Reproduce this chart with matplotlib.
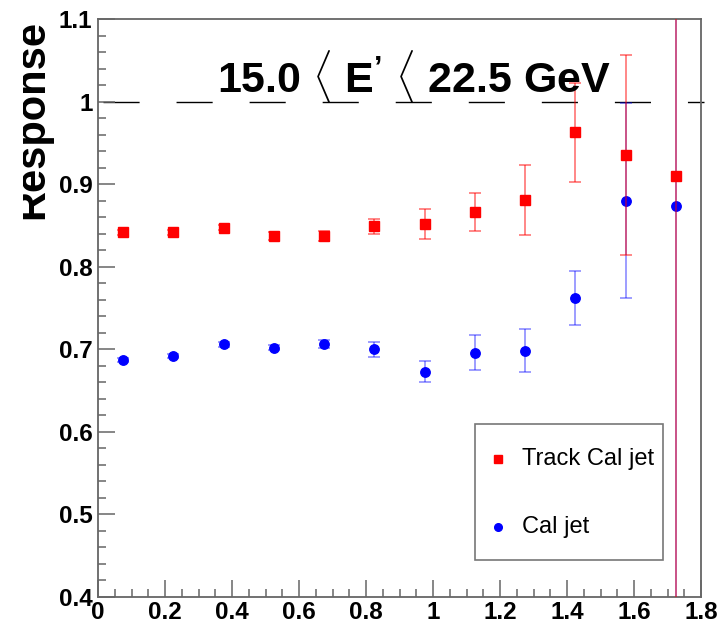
import matplotlib
matplotlib.use("Agg")
import numpy as np
import matplotlib.pyplot as plt
from matplotlib.ticker import MultipleLocator, FormatStrFormatter
from matplotlib.patches import Rectangle
from matplotlib.lines import Line2D
from matplotlib.legend_handler import HandlerLine2D

plt.rcParams['font.family'] = ['Liberation Sans', 'DejaVu Sans']
plt.rcParams['mathtext.fontset'] = 'custom'
plt.rcParams['mathtext.rm'] = 'Liberation Sans:bold'
plt.rcParams['mathtext.bf'] = 'Liberation Sans:bold'
plt.rcParams['lines.scale_dashes'] = False

# bin centres in x
x_bins = [0.075, 0.225, 0.375, 0.525, 0.675, 0.825, 0.975, 1.125, 1.275, 1.425, 1.575, 1.725]

# Track Cal jet
track_resp = [0.842, 0.842, 0.847, 0.837, 0.837, 0.849, 0.852, 0.866, 0.881, 0.963, 0.935, 0.910]
track_err = [0.003, 0.003, 0.003, 0.005, 0.006, 0.009, 0.018, 0.023, 0.042, 0.060, 0.121, 1.0]

# Cal jet
cal_resp = [0.687, 0.692, 0.706, 0.702, 0.706, 0.700, 0.673, 0.696, 0.698, 0.762, 0.880, 0.873]
cal_err = [0.002, 0.002, 0.003, 0.003, 0.005, 0.009, 0.013, 0.021, 0.026, 0.033, 0.118, 1.0]


class LowMarker(HandlerLine2D):
    # put the legend marker level with the middle of the label
    def create_artists(self, legend, orig_handle, xdescent, ydescent, width, height, fontsize, trans):
        arts = super().create_artists(legend, orig_handle, xdescent, ydescent, width, height, fontsize, trans)
        for a in arts:
            a.set_ydata(np.asarray(a.get_ydata()) - 7.5)
        return arts


W, H = 728, 626
fig = plt.figure(figsize=(W/100, H/100), dpi=100)
ax = fig.add_axes([98/W, 1-597/H, (701-98)/W, (597-19)/H])

ax.set_xlim(0, 1.8)
ax.set_ylim(0.4, 1.1)

# reference line at 1
ax.hlines(1.0, 0, 1.81, colors='black', lw=1.0, linestyles=[(49, (26, 26.6))], clip_on=False, zorder=1)

ax.errorbar(x_bins, track_resp, yerr=track_err, fmt='s', color='red', ms=6.8, mec='red',
            ecolor=(1, 0, 0, 0.55), elinewidth=1.2, capsize=4, capthick=1.2, zorder=3)
ax.errorbar(x_bins, cal_resp, yerr=cal_err, fmt='o', color='blue', ms=6.8, mec='blue',
            ecolor=(0, 0, 1, 0.45), elinewidth=1.2, capsize=4, capthick=1.2, zorder=2)

# axes style (ROOT like)
for side in ['left', 'bottom', 'right', 'top']:
    ax.spines[side].set_color('#666666')
    ax.spines[side].set_linewidth(1.3)
ax.xaxis.set_major_locator(MultipleLocator(0.2))
ax.xaxis.set_minor_locator(MultipleLocator(0.05))
ax.yaxis.set_major_locator(MultipleLocator(0.1))
ax.yaxis.set_minor_locator(MultipleLocator(0.02))
ax.xaxis.set_major_formatter(FormatStrFormatter('%g'))
ax.yaxis.set_major_formatter(FormatStrFormatter('%g'))
ax.tick_params(which='both', direction='in', color='#666666', width=1.1, top=False, right=False)
ax.tick_params(which='major', length=12)
ax.tick_params(which='minor', length=6)
ax.tick_params(axis='y', pad=4)
ax.tick_params(axis='x', pad=3)
for lab in ax.get_xticklabels() + ax.get_yticklabels():
    lab.set_fontsize(17.5)
    lab.set_fontweight('bold')

# title inside the frame
fig.text(414/W, 1-93/H, r"15.0 $\langle$ E$^{’}$ $\langle$ 22.5 GeV", fontsize=31,
         fontweight='bold', ha='center', va='baseline')

# y axis title, its top is cut off like in the original
fig.text(43/W, 1-20/H, "Response", fontsize=30, fontweight='bold', rotation=90,
         ha='right', va='baseline', rotation_mode='anchor', zorder=3)
fig.patches.append(Rectangle((0, 0), 23/W, 1, transform=fig.transFigure,
                             facecolor='white', edgecolor='none', zorder=10))

handles = [Line2D([], [], ls='none', marker='s', color='red', ms=5.5),
           Line2D([], [], ls='none', marker='o', color='blue', ms=5.5)]
leg = ax.legend(handles, ["Track Cal jet", "Cal jet"], loc='upper left',
                bbox_to_anchor=(475/W, 1-424/H), bbox_transform=fig.transFigure,
                fontsize=17, frameon=True, fancybox=False, edgecolor='#555555',
                borderpad=0.35, labelspacing=0.72, handlelength=1.25, handleheight=2.95,
                handletextpad=0.4, borderaxespad=0,
                handler_map={Line2D: LowMarker()})
leg.get_frame().set_linewidth(1.2)

fig.savefig("out.png", dpi=100)
